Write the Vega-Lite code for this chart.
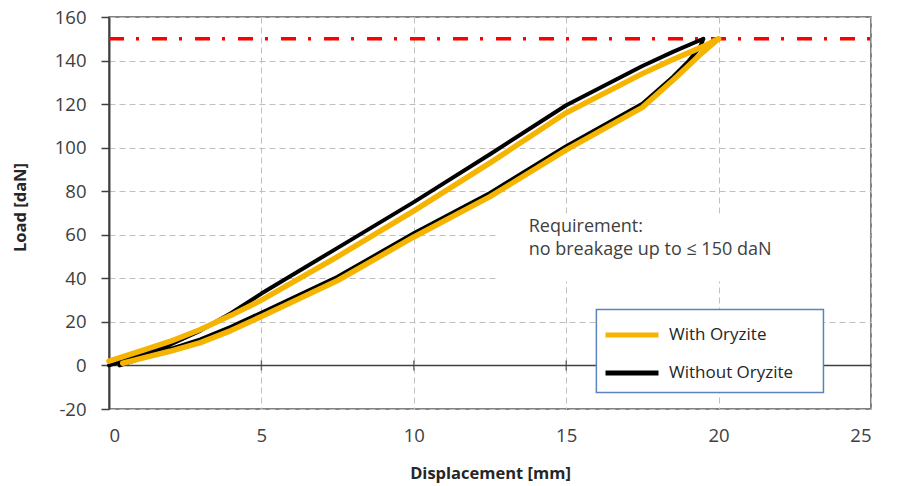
{
  "$schema": "https://vega.github.io/schema/vega-lite/v6.json",
  "width": 762,
  "height": 392,
  "autosize": "none",
  "padding": {"left": 109, "top": 17, "right": 27, "bottom": 77},
  "background": "white",
  "config": {
    "font": "Open Sans",
    "view": {"stroke": "#595959", "strokeWidth": 1.5}
  },
  "datasets": {
    "curves": [
      {"series": "With Oryzite", "o": 1, "x": 0, "y": 2},
      {"series": "With Oryzite", "o": 2, "x": 1, "y": 6.5},
      {"series": "With Oryzite", "o": 3, "x": 2, "y": 11},
      {"series": "With Oryzite", "o": 4, "x": 3, "y": 16.5},
      {"series": "With Oryzite", "o": 5, "x": 4, "y": 23},
      {"series": "With Oryzite", "o": 6, "x": 5, "y": 30},
      {"series": "With Oryzite", "o": 7, "x": 7.5, "y": 50},
      {"series": "With Oryzite", "o": 8, "x": 10, "y": 71},
      {"series": "With Oryzite", "o": 9, "x": 12.5, "y": 93},
      {"series": "With Oryzite", "o": 10, "x": 15, "y": 116},
      {"series": "With Oryzite", "o": 11, "x": 17.5, "y": 134},
      {"series": "With Oryzite", "o": 12, "x": 18.5, "y": 140.5},
      {"series": "With Oryzite", "o": 13, "x": 19.5, "y": 146.5},
      {"series": "With Oryzite", "o": 14, "x": 20, "y": 150},
      {"series": "With Oryzite", "o": 15, "x": 19.5, "y": 144},
      {"series": "With Oryzite", "o": 16, "x": 19, "y": 137.5},
      {"series": "With Oryzite", "o": 17, "x": 18.5, "y": 131},
      {"series": "With Oryzite", "o": 18, "x": 17.5, "y": 118.5},
      {"series": "With Oryzite", "o": 19, "x": 15, "y": 99},
      {"series": "With Oryzite", "o": 20, "x": 12.5, "y": 77.5},
      {"series": "With Oryzite", "o": 21, "x": 10, "y": 59},
      {"series": "With Oryzite", "o": 22, "x": 7.5, "y": 39},
      {"series": "With Oryzite", "o": 23, "x": 5, "y": 22.5},
      {"series": "With Oryzite", "o": 24, "x": 4, "y": 16},
      {"series": "With Oryzite", "o": 25, "x": 3, "y": 10.5},
      {"series": "With Oryzite", "o": 26, "x": 2, "y": 6.5},
      {"series": "With Oryzite", "o": 27, "x": 1, "y": 3},
      {"series": "With Oryzite", "o": 28, "x": 0.45, "y": 1},
      {"series": "Without Oryzite", "o": 1, "x": 0, "y": 0},
      {"series": "Without Oryzite", "o": 2, "x": 1, "y": 4.5},
      {"series": "Without Oryzite", "o": 3, "x": 2, "y": 9.5},
      {"series": "Without Oryzite", "o": 4, "x": 3, "y": 16},
      {"series": "Without Oryzite", "o": 5, "x": 4, "y": 24},
      {"series": "Without Oryzite", "o": 6, "x": 5, "y": 33},
      {"series": "Without Oryzite", "o": 7, "x": 7.5, "y": 54},
      {"series": "Without Oryzite", "o": 8, "x": 10, "y": 75},
      {"series": "Without Oryzite", "o": 9, "x": 12.5, "y": 97},
      {"series": "Without Oryzite", "o": 10, "x": 15, "y": 119.5},
      {"series": "Without Oryzite", "o": 11, "x": 17.5, "y": 137.5},
      {"series": "Without Oryzite", "o": 12, "x": 18.5, "y": 144},
      {"series": "Without Oryzite", "o": 13, "x": 19.5, "y": 150},
      {"series": "Without Oryzite", "o": 14, "x": 19.4, "y": 146.5},
      {"series": "Without Oryzite", "o": 15, "x": 19, "y": 139.5},
      {"series": "Without Oryzite", "o": 16, "x": 18.5, "y": 132.5},
      {"series": "Without Oryzite", "o": 17, "x": 17.5, "y": 120.2},
      {"series": "Without Oryzite", "o": 18, "x": 15, "y": 100.7},
      {"series": "Without Oryzite", "o": 19, "x": 12.5, "y": 79.2},
      {"series": "Without Oryzite", "o": 20, "x": 10, "y": 60.7},
      {"series": "Without Oryzite", "o": 21, "x": 7.5, "y": 40.7},
      {"series": "Without Oryzite", "o": 22, "x": 5, "y": 24.2},
      {"series": "Without Oryzite", "o": 23, "x": 4, "y": 17.7},
      {"series": "Without Oryzite", "o": 24, "x": 3, "y": 12},
      {"series": "Without Oryzite", "o": 25, "x": 2, "y": 7.5},
      {"series": "Without Oryzite", "o": 26, "x": 1, "y": 3},
      {"series": "Without Oryzite", "o": 27, "x": 0.35, "y": 0}
    ]
  },
  "encoding": {
    "x": {
      "field": "x", "type": "quantitative",
      "scale": {"domain": [0, 25], "nice": false, "zero": false},
      "axis": {
        "title": "Displacement [mm]",
        "values": [0, 5, 10, 15, 20, 25],
        "ticks": false, "tickSize": 0, "domain": false,
        "labelPadding": 17, "labelFontSize": 18.5, "labelColor": "#404040",
        "grid": true, "gridDash": [6, 4], "gridColor": "#BFBFBF", "gridWidth": 1,
        "titleFontSize": 16.5, "titleFontWeight": "bold", "titleColor": "#262626", "titlePadding": 21
      }
    },
    "y": {
      "field": "y", "type": "quantitative",
      "scale": {"domain": [-20, 160], "nice": false, "zero": false},
      "axis": {
        "title": "Load [daN]",
        "values": [-20, 0, 20, 40, 60, 80, 100, 120, 140, 160],
        "labelExpr": "replace(datum.label, '−', '-')",
        "ticks": true, "tickSize": 8, "tickWidth": 1.5, "tickColor": "#404040",
        "domain": true, "domainColor": "#404040", "domainWidth": 2,
        "labelPadding": 15, "labelFontSize": 18.5, "labelColor": "#404040",
        "grid": true, "gridDash": [6, 4], "gridColor": "#BFBFBF", "gridWidth": 1,
        "titleFontSize": 16.5, "titleFontWeight": "bold", "titleColor": "#262626",
        "titleX": -89, "titleY": 190, "titleBaseline": "middle", "titleAngle": -90
      }
    }
  },
  "layer": [
    {
      "data": {"values": [{"x": 12.7, "x2": 24.9, "y": 38.5, "y2": 69.7}]},
      "mark": {"type": "rect", "fill": "white", "stroke": null},
      "encoding": {"x2": {"field": "x2"}, "y2": {"field": "y2"}}
    },
    {
      "data": {"values": [{"x": 0, "x2": 25, "y": 0}]},
      "mark": {"type": "rule", "color": "#404040", "strokeWidth": 1.5},
      "encoding": {"x2": {"field": "x2"}}
    },
    {
      "data": {"values": [{"x": 5, "y": 0}, {"x": 10, "y": 0}, {"x": 15, "y": 0}, {"x": 20, "y": 0}]},
      "mark": {"type": "tick", "orient": "vertical", "color": "#404040", "size": 10, "thickness": 1.5}
    },
    {
      "data": {"values": [{"x": 0, "x2": 25, "y": 150}]},
      "mark": {"type": "rule", "color": "#FF0000", "strokeWidth": 3.5, "strokeDash": [15, 12, 3, 13]},
      "encoding": {"x2": {"field": "x2"}}
    },
    {
      "data": {"name": "curves"},
      "transform": [{"filter": "datum.series === 'Without Oryzite'"}],
      "mark": {"type": "line", "strokeWidth": 4, "strokeJoin": "round", "strokeCap": "round"},
      "encoding": {
        "order": {"field": "o", "type": "quantitative"},
        "color": {
          "field": "series", "type": "nominal",
          "scale": {"domain": ["With Oryzite", "Without Oryzite"], "range": ["#F4B400", "#000000"]},
          "legend": {
            "orient": "none", "legendX": 494, "legendY": 309, "title": null,
            "padding": 0, "symbolType": "stroke", "symbolSize": 2809, "symbolStrokeWidth": 5,
            "clipHeight": 18, "rowPadding": 20, "labelOffset": 8,
            "labelFontSize": 17, "labelColor": "#262626", "symbolOpacity": 1
          }
        }
      }
    },
    {
      "data": {"name": "curves"},
      "transform": [{"filter": "datum.series === 'With Oryzite'"}],
      "mark": {"type": "line", "strokeWidth": 5.5, "strokeJoin": "round", "strokeCap": "round"},
      "encoding": {
        "order": {"field": "o", "type": "quantitative"},
        "color": {
          "field": "series", "type": "nominal",
          "scale": {"domain": ["With Oryzite", "Without Oryzite"], "range": ["#F4B400", "#000000"]},
          "legend": {
            "orient": "none", "legendX": 494, "legendY": 309, "title": null,
            "padding": 0, "symbolType": "stroke", "symbolSize": 2809, "symbolStrokeWidth": 5,
            "clipHeight": 18, "rowPadding": 20, "labelOffset": 8,
            "labelFontSize": 17, "labelColor": "#262626", "symbolOpacity": 1
          }
        }
      }
    },
    {
      "data": {"values": [{"x": 15.99, "x2": 23.44, "y": 25.7, "y2": -12.4}]},
      "mark": {"type": "rect", "fill": "white", "stroke": "#5B84BF", "strokeWidth": 1.5},
      "encoding": {"x2": {"field": "x2"}, "y2": {"field": "y2"}}
    },
    {
      "data": {"values": [
        {"x": 13.77, "y": 63.8, "text": "Requirement:"},
        {"x": 13.77, "y": 52.8, "text": "no breakage up to ≤ 150 daN"}
      ]},
      "mark": {"type": "text", "align": "left", "baseline": "middle", "fontSize": 18, "color": "#404040"},
      "encoding": {"text": {"field": "text"}}
    }
  ]
}
